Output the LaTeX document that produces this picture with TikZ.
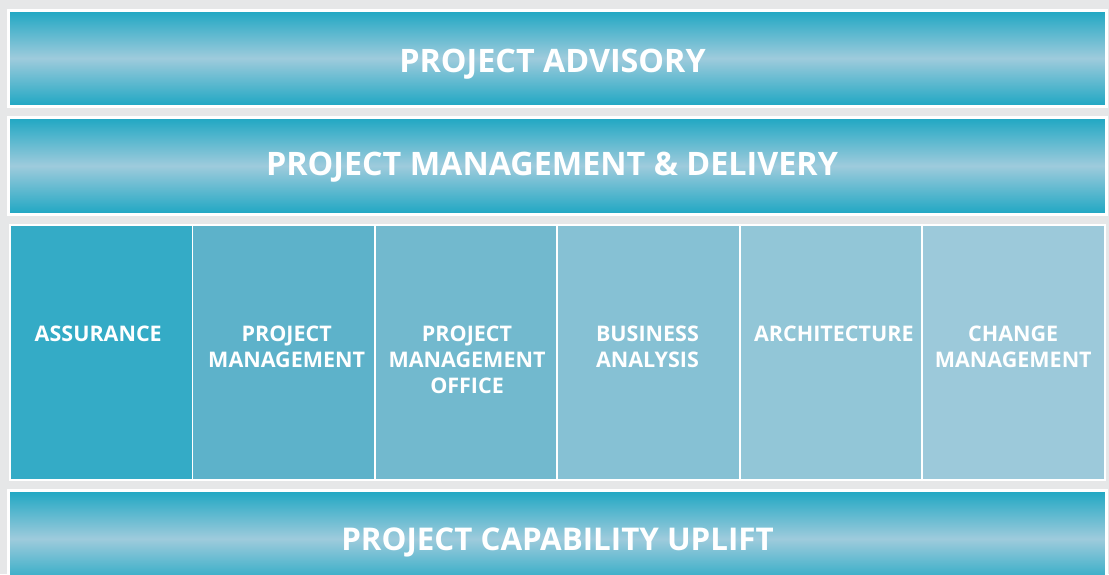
\documentclass[tikz,border=0pt]{standalone}
\usepackage{fontspec}
\setmainfont{Open Sans}
\definecolor{bg}{HTML}{E6E7E8}
\definecolor{barend}{HTML}{1FA7C3}
\definecolor{barmid}{HTML}{9ECBDC}
\definecolor{cA}{HTML}{34ABC6}
\definecolor{cB}{HTML}{5DB2CA}
\definecolor{cC}{HTML}{72B9CE}
\definecolor{cD}{HTML}{86C1D4}
\definecolor{cE}{HTML}{92C6D7}
\definecolor{cF}{HTML}{9CC9DA}
\begin{document}
\begin{tikzpicture}[x=1pt,y=-1pt,
  bar/.style={rectangle, draw=white, line width=3pt, top color=barend, bottom color=barend, middle color=barmid,
    minimum width=1097.5pt, inner sep=0pt},
  bartext/.style={anchor=base, inner sep=0pt, text=white, font=\bfseries\fontsize{32.3}{38}\selectfont},
  cell/.style={rectangle, inner sep=0pt, minimum width=180.5pt, minimum height=253pt},
  celltext/.style={anchor=north, inner sep=0pt, align=center, text=white, font=\bfseries\fontsize{21.5}{26}\selectfont}]
\useasboundingbox (0,0) rectangle (1109,574);
\fill[bg] (0,0) rectangle (1109,574);
\clip (0,0) rectangle (1109,574);
% top bars
\node[bar, minimum height=95.5pt] (adv) at (557.25,58.25) {};
\node[bartext] (advt) at (552.5,72.5) {PROJECT ADVISORY};
\node[bar, minimum height=96.5pt] (pmd) at (557.25,165.75) {};
\node[bartext] (pmdt) at (552,175.5) {PROJECT MANAGEMENT \& DELIVERY};
% grid frame
\node[rectangle, fill=white, inner sep=0pt, minimum width=1097pt, minimum height=257pt] (grid) at (557.5,352.5) {};
\foreach \i/\c/\n in {0/cA/a,1/cB/b,2/cC/c,3/cD/d,4/cE/e,5/cF/f}{
  \node[cell, fill=\c] (cell\n) at ({101.25+\i*182.4},352.5) {};
}
\node[celltext] (ta) at ([xshift=-3pt,yshift=-100pt]cella.north) {ASSURANCE};
\node[celltext] (tb) at ([xshift=3pt,yshift=-100pt]cellb.north) {PROJECT\\MANAGEMENT};
\node[celltext] (tc) at ([xshift=1pt,yshift=-100pt]cellc.north) {PROJECT\\MANAGEMENT\\OFFICE};
\node[celltext] (td) at ([xshift=-1pt,yshift=-100pt]celld.north) {BUSINESS\\ANALYSIS};
\node[celltext] (te) at ([xshift=3pt,yshift=-100pt]celle.north) {ARCHITECTURE};
\node[celltext] (tf) at ([xshift=0pt,yshift=-100pt]cellf.north) {CHANGE\\MANAGEMENT};
% bottom bar
\node[bar, minimum height=96.5pt] (cap) at (557.25,538.75) {};
\node[bartext, font=\bfseries\fontsize{31.3}{38}\selectfont] (capt) at (557.5,550.5) {PROJECT CAPABILITY UPLIFT};
\end{tikzpicture}
\end{document}
